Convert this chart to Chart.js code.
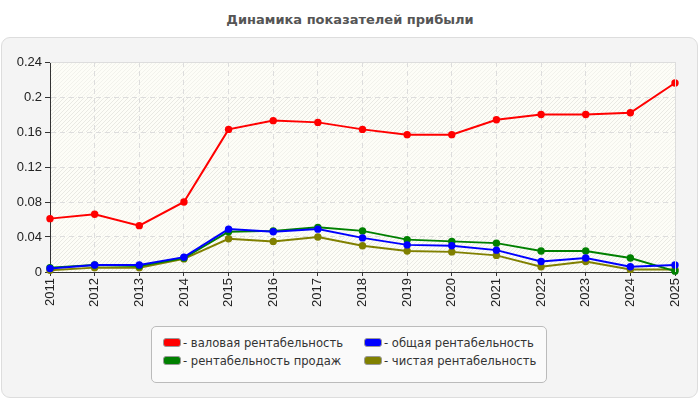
<!DOCTYPE html>
<html>
<head>
<meta charset="utf-8">
<script src="https://cdn.jsdelivr.net/npm/chart.js@4/dist/chart.umd.min.js"></script>
<style>
  html, body { margin: 0; padding: 0; background: #fff; }
  .wrap { position: relative; width: 700px; height: 400px; overflow: hidden; font-family: "DejaVu Sans", sans-serif; }
  .title { position: absolute; left: 0; top: 12px; width: 700px; text-align: center; font-weight: bold; font-size: 13px; color: #555; }
  .panel { position: absolute; left: 1px; top: 37px; width: 695px; height: 359px; background: #f4f4f4; border: 1px solid #ddd; border-radius: 9px; }
  canvas { position: absolute; left: 0; top: 0; }
  .legend { position: absolute; left: 151px; top: 326px; width: 394px; height: 55px; background: #fafafa; border: 1px solid #bbb; border-radius: 5px; font-size: 11.6px; color: #333; }
  .legend .item { position: absolute; white-space: nowrap; line-height: 14px; }
  .legend .sw { display: inline-block; width: 16px; height: 7px; border: 1px solid #999; border-radius: 3px; vertical-align: 0px; margin-right: 2px; }
</style>
</head>
<body>
<div class="wrap">
  <div class="title">Динамика показателей прибыли</div>
  <div class="panel"></div>
  <canvas id="chart" width="700" height="400"></canvas>
  <div class="legend" id="legend"></div>
</div>
<script>
const years = ["2011", "2012", "2013", "2014", "2015", "2016", "2017", "2018", "2019", "2020", "2021", "2022", "2023", "2024", "2025"];
const grossMargin = [0.061, 0.066, 0.053, 0.080, 0.163, 0.173, 0.171, 0.163, 0.157, 0.157, 0.174, 0.180, 0.180, 0.182, 0.216];
const totalMargin = [0.004, 0.008, 0.008, 0.017, 0.049, 0.046, 0.049, 0.039, 0.031, 0.030, 0.025, 0.012, 0.016, 0.006, 0.008];
const salesMargin = [0.005, 0.008, 0.007, 0.016, 0.046, 0.047, 0.051, 0.047, 0.037, 0.035, 0.033, 0.024, 0.024, 0.016, 0.001];
const netMargin = [0.002, 0.005, 0.005, 0.015, 0.038, 0.035, 0.040, 0.030, 0.024, 0.023, 0.019, 0.006, 0.012, 0.003, 0.003];
const yTicks = [0, 0.04, 0.08, 0.12, 0.16, 0.2, 0.24];

const series = [
  { label: "валовая рентабельность", data: grossMargin, color: "#ff0000" },
  { label: "общая рентабельность", data: totalMargin, color: "#0000ff" },
  { label: "рентабельность продаж", data: salesMargin, color: "#008000" },
  { label: "чистая рентабельность", data: netMargin, color: "#808000" }
];

// plot background: ivory with faint diagonal hatching, alternating per band
const plotBackground = {
  id: "plotBackground",
  beforeDraw(chart) {
    const { ctx, chartArea: a, scales } = chart;
    ctx.save();
    ctx.fillStyle = "#fdfdf7";
    ctx.fillRect(a.left, a.top, a.right - a.left, a.bottom - a.top);
    for (let i = 0; i < yTicks.length - 1; i++) {
      const y1 = scales.y.getPixelForValue(yTicks[i + 1]);
      const y2 = scales.y.getPixelForValue(yTicks[i]);
      ctx.save();
      ctx.beginPath();
      ctx.rect(a.left, y1, a.right - a.left, y2 - y1);
      ctx.clip();
      ctx.strokeStyle = i % 2 === 0 ? "rgba(0,0,0,0.08)" : "rgba(0,0,0,0.045)";
      ctx.lineWidth = 1;
      ctx.beginPath();
      for (let x = a.left - 60; x < a.right + 60; x += 4) {
        ctx.moveTo(x, y2);
        ctx.lineTo(x + (y2 - y1), y1);
      }
      ctx.stroke();
      ctx.restore();
    }
    ctx.restore();
  },
  afterDraw(chart) {
    const { ctx, chartArea: a } = chart;
    ctx.save();
    ctx.strokeStyle = "#dddddd";
    ctx.lineWidth = 1;
    ctx.beginPath();
    ctx.moveTo(a.left, a.top + 0.5);
    ctx.lineTo(a.right + 0.5, a.top + 0.5);
    ctx.lineTo(a.right + 0.5, a.bottom);
    ctx.stroke();
    ctx.restore();
  }
};

const tickFont = { family: "'Liberation Sans', Arial, sans-serif", size: 13 };

new Chart(document.getElementById("chart"), {
  type: "line",
  data: {
    labels: years,
    datasets: series.map((s) => ({
      label: s.label,
      data: s.data,
      borderColor: s.color,
      backgroundColor: s.color,
      pointBackgroundColor: s.color,
      borderWidth: 2,
      pointRadius: 3.7,
      pointBorderWidth: 0,
      tension: 0,
      clip: false
    }))
  },
  options: {
    responsive: false,
    animation: false,
    layout: { padding: { left: 0, right: 25, top: 62, bottom: 0 } },
    plugins: { legend: { display: false }, tooltip: { enabled: false } },
    scales: {
      x: {
        offset: false,
        afterFit(scale) { scale.height = 128; },
        grid: { color: "#dddddd", tickLength: 4, tickColor: "#333", drawOnChartArea: true },
        border: { color: "#333", width: 1, dash: [5, 4] },
        ticks: { color: "#222", font: tickFont, maxRotation: 90, minRotation: 90, padding: 2, autoSkip: false }
      },
      y: {
        min: 0,
        max: 0.24,
        afterFit(scale) { scale.width = 50; },
        afterBuildTicks(scale) { scale.ticks = yTicks.map((v) => ({ value: v })); },
        grid: { color: "#dddddd", tickLength: 5, tickColor: "#333" },
        border: { color: "#333", width: 1, dash: [5, 4] },
        ticks: { color: "#222", font: tickFont, padding: 3, callback: (v) => String(v) }
      }
    }
  },
  plugins: [plotBackground]
});

// HTML legend, two columns
const legend = document.getElementById("legend");
const spots = [[11, 9], [212, 9], [11, 27], [212, 27]];
series.forEach((s, i) => {
  const el = document.createElement("div");
  el.className = "item";
  el.style.left = spots[i][0] + "px";
  el.style.top = spots[i][1] + "px";
  el.innerHTML = `<span class="sw" style="background:${s.color}"></span>- ${s.label}`;
  legend.appendChild(el);
});
</script>
</body>
</html>
